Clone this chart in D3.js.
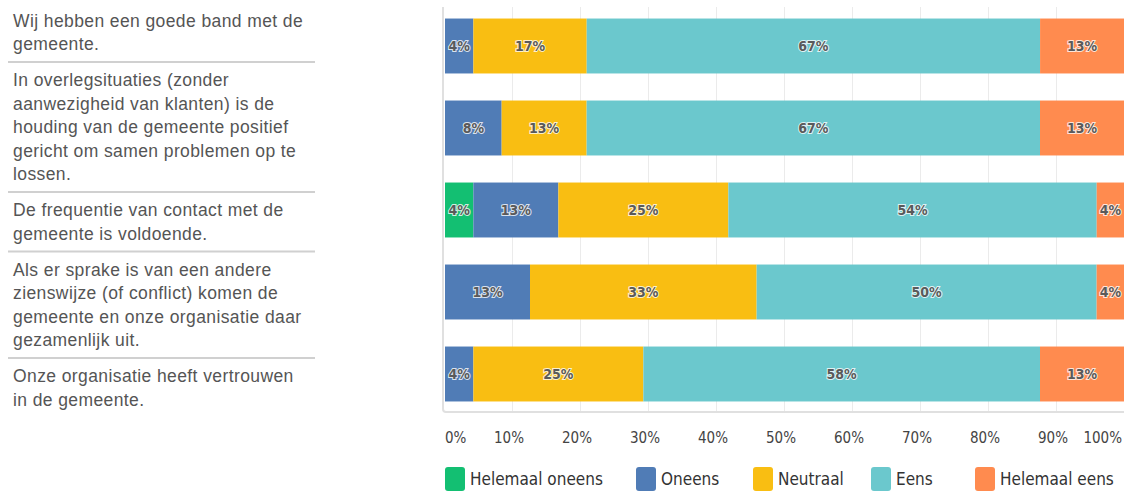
<!DOCTYPE html>
<html>
<head>
<meta charset="utf-8">
<script src="https://cdn.jsdelivr.net/npm/d3@7"></script>
<style>
  body { margin: 0; background: #fff; }
  svg { display: block; }
</style>
</head>
<body>
<div id="chart"></div>
<script>
// statements, wrapped as on the picture
let questions = [
    ["Wij hebben een goede band met de", "gemeente."],
    ["In overlegsituaties (zonder", "aanwezigheid van klanten) is de", "houding van de gemeente positief", "gericht om samen problemen op te", "lossen."],
    ["De frequentie van contact met de", "gemeente is voldoende."],
    ["Als er sprake is van een andere", "zienswijze (of conflict) komen de", "gemeente en onze organisatie daar", "gezamenlijk uit."],
    ["Onze organisatie heeft vertrouwen", "in de gemeente."]
]
let answers = ["Helemaal oneens", "Oneens", "Neutraal", "Eens", "Helemaal eens"]
let colors = ["#13bf72", "#507cb6", "#f9be12", "#6bc8cd", "#ff8b4f"]

// percentage per answer, one array per answer (order = questions)
let helemaalOneens = [0, 0, 4.17, 0, 0]
let oneens = [4.17, 8.33, 12.5, 12.5, 4.17]
let neutraal = [16.67, 12.5, 25, 33.33, 25]
let eens = [66.67, 66.67, 54.17, 50, 58.33]
let helemaalEens = [12.5, 12.5, 4.17, 4.17, 12.5]

let xTicks = [0, 10, 20, 30, 40, 50, 60, 70, 80, 90, 100]

let series = [helemaalOneens, oneens, neutraal, eens, helemaalEens]
let table = questions.map((q, i) => {
    let row = {q: i}
    answers.forEach((a, j) => { row[a] = series[j][i] })
    return row
})

let width = 1124, height = 492
let svg = d3.select("#chart").append("svg")
    .attr("width", width)
    .attr("height", height)

let x = d3.scaleLinear().domain([0, 100]).range([445, 1125])
let y = d3.scaleBand().domain(d3.range(questions.length)).range([5, 415]).paddingInner(0.33).paddingOuter(0.165)

// grid
svg.append("g").selectAll("line")
    .data(xTicks.slice(1))
    .enter().append("line")
    .attr("x1", d => x(d) - 0.5).attr("x2", d => x(d) - 0.5)
    .attr("y1", 7).attr("y2", 412)
    .attr("stroke", "#ebebeb")
    .attr("stroke-width", 1)

// frame left and bottom
svg.append("path")
    .attr("d", "M443,7 L443,409 Q443,412 446,412 L1124,412")
    .attr("fill", "none")
    .attr("stroke", "#e0e0e0")
    .attr("stroke-width", 2)

let stack = d3.stack().keys(answers)(table)

let layers = svg.append("g").selectAll("g")
    .data(stack)
    .enter().append("g")
    .attr("fill", (d, i) => colors[i])

layers.selectAll("rect")
    .data(d => d)
    .enter().append("rect")
    .attr("x", d => x(d[0]))
    .attr("y", (d, i) => y(i))
    .attr("width", d => x(d[1]) - x(d[0]))
    .attr("height", y.bandwidth())

// value labels
stack.forEach(layer => {
    svg.append("g").selectAll("text")
        .data(layer.filter(d => d.data[layer.key] > 0))
        .enter().append("text")
        .attr("x", d => (x(d[0]) + Math.min(x(d[1]), 1124)) / 2)
        .attr("y", d => y(d.data.q) + y.bandwidth() / 2)
        .attr("dy", "0.35em")
        .attr("text-anchor", "middle")
        .attr("font-family", "'Liberation Sans Narrow', 'DejaVu Sans Condensed', sans-serif")
        .attr("font-weight", "bold")
        .attr("font-size", 14)
        .attr("fill", "#5a5a5a")
        .attr("stroke", "#fff")
        .attr("stroke-width", 2)
        .attr("stroke-opacity", 0.8)
        .attr("paint-order", "stroke")
        .text(d => Math.round(d.data[layer.key]) + "%")
})

// question labels at the left
let lineH = 23.5
let sepY = 2.5
let qGroup = svg.append("g")
questions.forEach((lines, i) => {
    lines.forEach((l, k) => {
        qGroup.append("text")
            .attr("x", 13)
            .attr("y", sepY + 18 + k * lineH + 6)
            .attr("font-family", "'Liberation Sans', Arial, sans-serif")
            .attr("font-size", 17.5)
            .attr("letter-spacing", 0.4)
            .attr("fill", "#555")
            .text(l)
    })
    sepY = sepY + lines.length * lineH + 12.5
    if (i < questions.length - 1) {
        qGroup.append("line")
            .attr("x1", 8).attr("x2", 315)
            .attr("y1", sepY).attr("y2", sepY)
            .attr("stroke", "#d0d0d0")
            .attr("stroke-width", 2)
    }
})

// x axis labels
svg.append("g").selectAll("text")
    .data(xTicks)
    .enter().append("text")
    .attr("x", d => d === 0 ? x(d) : d === 100 ? 1122 : x(d) - 4)
    .attr("y", 443)
    .attr("text-anchor", d => d === 0 ? "start" : d === 100 ? "end" : "middle")
    .attr("font-family", "'Liberation Sans Narrow', 'DejaVu Sans Condensed', sans-serif")
    .attr("font-size", 15)
    .attr("fill", "#444")
    .text(d => d + "%")

// legend
let legendX = [445, 636, 753, 871, 975]
let legend = svg.append("g").selectAll("g")
    .data(answers)
    .enter().append("g")
    .attr("transform", (d, i) => "translate(" + legendX[i] + ",467)")
legend.append("rect")
    .attr("width", 20).attr("height", 24).attr("rx", 3)
    .attr("fill", (d, i) => colors[i])
legend.append("text")
    .attr("x", 25).attr("y", 12).attr("dy", "0.35em")
    .attr("font-family", "'Liberation Sans Narrow', 'DejaVu Sans Condensed', sans-serif")
    .attr("font-size", 17)
    .attr("fill", "#333")
    .text(d => d)
</script>
</body>
</html>
